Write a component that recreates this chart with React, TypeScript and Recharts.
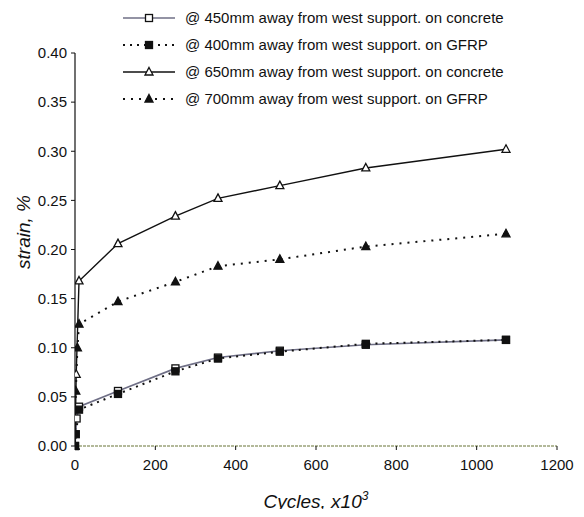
import { LineChart, Line, XAxis, YAxis } from 'recharts'

// cycles (x10^3) and strain (%) for each gauge
const cycles450 = [0, 4, 10, 107, 250, 356, 510, 724, 1073]
const strain450 = [0, 0.028, 0.04, 0.056, 0.079, 0.09, 0.097, 0.103, 0.108]

const cycles400 = [0, 2, 10, 107, 250, 356, 510, 724, 1073]
const strain400 = [0, 0.012, 0.037, 0.053, 0.076, 0.089, 0.096, 0.104, 0.108]

const cycles650 = [0, 3, 10, 107, 250, 356, 510, 724, 1073]
const strain650 = [0, 0.073, 0.168, 0.206, 0.234, 0.252, 0.265, 0.283, 0.302]

const cycles700 = [0, 2, 6, 10, 107, 250, 356, 510, 724, 1073]
const strain700 = [0, 0.056, 0.1, 0.124, 0.147, 0.167, 0.183, 0.19, 0.203, 0.216]

const xTicks = [0, 200, 400, 600, 800, 1000, 1200]
const yTicks = [0, 0.05, 0.1, 0.15, 0.2, 0.25, 0.3, 0.35, 0.4]

const legendNames = [
  '@ 450mm away from west support. on concrete',
  '@ 400mm away from west support. on GFRP',
  '@ 650mm away from west support. on concrete',
  '@ 700mm away from west support. on GFRP',
]

const toRows = (xs: number[], ys: number[]) => xs.map((x, i) => ({ x, y: ys[i] }))

const FONT = '"Liberation Sans", Arial, sans-serif'
const INK = '#111'

type MarkerKind = 'openSquare' | 'square' | 'openTriangle' | 'triangle'

function marker(kind: MarkerKind, cx: number, cy: number, key?: string | number) {
  const open = kind === 'openSquare' || kind === 'openTriangle'
  const fill = open ? '#fff' : INK
  if (kind === 'openSquare' || kind === 'square') {
    return <rect key={key} x={cx - 3.5} y={cy - 3.5} width={7} height={7} fill={fill} stroke={INK} strokeWidth={1.3} />
  }
  return (
    <polygon
      key={key}
      points={`${cx},${cy - 4.5} ${cx + 4},${cy + 3} ${cx - 4},${cy + 3}`}
      fill={fill}
      stroke={INK}
      strokeWidth={1.3}
    />
  )
}

const dotFor = (kind: MarkerKind) =>
  // eslint-disable-next-line @typescript-eslint/no-explicit-any
  (props: any) => marker(kind, props.cx, props.cy, props.index)

const series = [
  { name: legendNames[0], data: toRows(cycles450, strain450), stroke: '#6f6f86', dash: undefined, width: 1.6, kind: 'openSquare' as MarkerKind },
  { name: legendNames[1], data: toRows(cycles400, strain400), stroke: INK, dash: '2 5', width: 2, kind: 'square' as MarkerKind },
  { name: legendNames[2], data: toRows(cycles650, strain650), stroke: INK, dash: undefined, width: 1.4, kind: 'openTriangle' as MarkerKind },
  { name: legendNames[3], data: toRows(cycles700, strain700), stroke: INK, dash: '2 6', width: 2, kind: 'triangle' as MarkerKind },
]

function LegendBox() {
  return (
    <div style={{ position: 'absolute', top: 4, left: 122, fontFamily: FONT, fontSize: 15, color: INK }}>
      {series.map((s) => (
        <div key={s.name} style={{ display: 'flex', alignItems: 'center', height: 27 }}>
          <svg width={62} height={14} style={{ marginRight: 1 }}>
            <line x1={1} y1={7} x2={53} y2={7} stroke={s.stroke} strokeWidth={s.width} strokeDasharray={s.dash} />
            {marker(s.kind, 27, 7)}
          </svg>
          <span style={{ whiteSpace: 'nowrap' }}>{s.name}</span>
        </div>
      ))}
    </div>
  )
}

// eslint-disable-next-line @typescript-eslint/no-explicit-any
function XTitle({ viewBox }: any) {
  const cx = viewBox.x + viewBox.width / 2
  return (
    <text x={cx} y={508} textAnchor="middle" fontFamily={FONT} fontStyle="italic" fontSize={19} fill={INK}>
      Cycles, x10
      <tspan dy={-8} fontSize={12}>3</tspan>
    </text>
  )
}

function YTitle() {
  return (
    <text
      x={0}
      y={0}
      transform="translate(30 232) rotate(-90)"
      textAnchor="middle"
      fontFamily={FONT}
      fontStyle="italic"
      fontSize={19}
      fill={INK}
    >
      strain, %
    </text>
  )
}

export default function App() {
  return (
    <div style={{ position: 'relative', width: 584, height: 517, margin: -8, background: '#fff' }}>
      <LineChart width={584} height={517} margin={{ top: 53, right: 27, left: 0, bottom: 0 }}>
        <XAxis
          type="number"
          dataKey="x"
          domain={[0, 1200]}
          ticks={xTicks}
          allowDataOverflow
          height={71}
          axisLine={{ stroke: '#9aa27a', strokeWidth: 1.5, strokeDasharray: '3 1' }}
          tickLine={{ stroke: INK }}
          tickSize={4}
          tick={{ fill: INK, fontSize: 15, fontFamily: FONT }}
          tickMargin={9}
          label={<XTitle />}
        />
        <YAxis
          type="number"
          dataKey="y"
          domain={[0, 0.4]}
          ticks={yTicks}
          width={75}
          axisLine={{ stroke: INK, strokeWidth: 1.2 }}
          tickLine={{ stroke: INK }}
          tickSize={4}
          tick={{ fill: INK, fontSize: 15, fontFamily: FONT }}
          tickMargin={4}
          tickFormatter={(v: number) => v.toFixed(2)}
          label={<YTitle />}
        />
        {series.map((s) => (
          <Line
            key={s.name}
            data={s.data}
            dataKey="y"
            name={s.name}
            type="linear"
            stroke={s.stroke}
            strokeWidth={s.width}
            strokeDasharray={s.dash}
            dot={dotFor(s.kind)}
            activeDot={false}
            isAnimationActive={false}
          />
        ))}
      </LineChart>
      <LegendBox />
    </div>
  )
}
